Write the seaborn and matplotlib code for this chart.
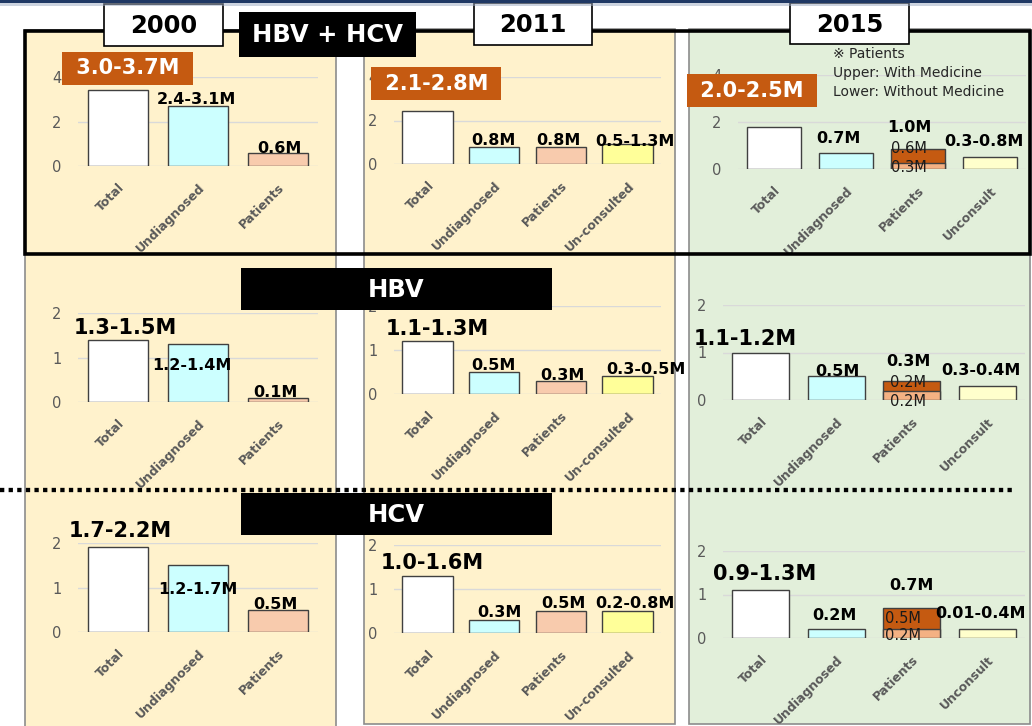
import numpy as np
import pandas as pd
import matplotlib
matplotlib.use('Agg')
import matplotlib.pyplot as plt
from matplotlib.patches import Rectangle
from matplotlib.lines import Line2D
import seaborn as sns

W, H = 1032, 726

# --- data (millions of people) ---
cats_2000 = ['Total', 'Undiagnosed', 'Patients']
cats_2011 = ['Total', 'Undiagnosed', 'Patients', 'Un-consulted']
cats_2015 = ['Total', 'Undiagnosed', 'Patients', 'Unconsult']

both_2000 = [3.4, 2.7, 0.6]
hbv_2000 = [1.4, 1.3, 0.1]
hcv_2000 = [1.9, 1.5, 0.5]
both_2011 = [2.45, 0.8, 0.8, 0.9]
hbv_2011 = [1.2, 0.5, 0.3, 0.4]
hcv_2011 = [1.3, 0.3, 0.5, 0.5]
both_2015 = [1.8, 0.7, 0.85, 0.5]
hbv_2015 = [1.0, 0.5, 0.4, 0.3]
hcv_2015 = [1.1, 0.2, 0.7, 0.2]
# 2015 patients without medicine (lower part of the stacked bar): HBV+HCV, HBV, HCV
no_med_2015 = [0.25, 0.2, 0.2]

lab_both_2000 = ['3.0-3.7M', '2.4-3.1M', '0.6M']
lab_hbv_2000 = ['1.3-1.5M', '1.2-1.4M', '0.1M']
lab_hcv_2000 = ['1.7-2.2M', '1.2-1.7M', '0.5M']
lab_both_2011 = ['2.1-2.8M', '0.8M', '0.8M', '0.5-1.3M']
lab_hbv_2011 = ['1.1-1.3M', '0.5M', '0.3M', '0.3-0.5M']
lab_hcv_2011 = ['1.0-1.6M', '0.3M', '0.5M', '0.2-0.8M']
lab_both_2015 = ['2.0-2.5M', '0.7M', '1.0M', '0.3-0.8M']
lab_hbv_2015 = ['1.1-1.2M', '0.5M', '0.3M', '0.3-0.4M']
lab_hcv_2015 = ['0.9-1.3M', '0.2M', '0.7M', '0.01-0.4M']
lab_med_2015 = ['0.6M', '0.2M', '0.5M']
lab_no_med_2015 = ['0.3M', '0.2M', '0.2M']

col_2000 = {'Total': 'white', 'Undiagnosed': '#CCFFFF', 'Patients': '#F8CBAD'}
col_2011 = {'Total': 'white', 'Undiagnosed': '#CCFFFF', 'Patients': '#F8CBAD', 'Un-consulted': '#FFFF99'}
col_2015 = {'Total': 'white', 'Undiagnosed': '#CCFFFF', 'Patients': '#C55A11', 'Unconsult': '#FFFFCC'}
NO_MED_COLOR = '#F4B183'
ORANGE = '#C55A11'

fig = plt.figure(figsize=(W / 100, H / 100), dpi=100)


def add_rect(x0, y0, x1, y1, **kw):
    r = Rectangle((x0 / W, 1 - y1 / H), (x1 - x0) / W, (y1 - y0) / H,
                  transform=fig.transFigure, **kw)
    fig.add_artist(r)


def add_text(x, y, s, **kw):
    fig.text(x / W, 1 - y / H, s, **kw)


# background panels
add_rect(25, 30, 336, 727, fc='#FFF2CC', ec='#8C8C8C', lw=1.2, zorder=-2)
add_rect(364, 29, 675, 724, fc='#FFF2CC', ec='#8C8C8C', lw=1.2, zorder=-2)
add_rect(689, 29, 1030, 724, fc='#E2EFDA', ec='#8C8C8C', lw=1.2, zorder=-2)

# panel layout: (left, right, y of 0, y of ymax) in pixels
panels = [
    dict(cats=cats_2000, vals=both_2000, labs=lab_both_2000, col=col_2000, px=(78, 318, 166, 77), ymax=4,
         off=[(9.5, 22), (-1.5, 2), (1, 0)], top=True),
    dict(cats=cats_2000, vals=hbv_2000, labs=lab_hbv_2000, col=col_2000, px=(78, 318, 402, 313), ymax=2,
         off=[(7, 6), (-6, -26), (-3, 1)], top=False),
    dict(cats=cats_2000, vals=hcv_2000, labs=lab_hcv_2000, col=col_2000, px=(78, 318, 632, 543), ymax=2,
         off=[(2, 10.5), (0, -29), (-3, 1)], top=False),
    dict(cats=cats_2011, vals=both_2011, labs=lab_both_2011, col=col_2011, px=(394, 661, 164, 77), ymax=4,
         off=[(9, 27), (-1, 1.5), (-2, 1.5), (7.5, -2)], top=True),
    dict(cats=cats_2011, vals=hbv_2011, labs=lab_hbv_2011, col=col_2011, px=(394, 661, 394, 306), ymax=2,
         off=[(9.5, 6), (-1, 2), (2, 1), (18, 2.5)], top=False),
    dict(cats=cats_2011, vals=hcv_2011, labs=lab_hcv_2011, col=col_2011, px=(394, 661, 633, 545), ymax=2,
         off=[(5, 7), (5, 3), (3, 2.5), (7, 3.5)], top=False),
    dict(cats=cats_2015, vals=both_2015, labs=lab_both_2015, col=col_2015, px=(738, 1026, 169, 75), ymax=4,
         off=[(-22, 36), (-8, 9.5), (-9, 17), (-6, 11)], top=True, split=0,
         split_off=[(-9, -3.5), (-9, -8.5)]),
    dict(cats=cats_2015, vals=hbv_2015, labs=lab_hbv_2015, col=col_2015, px=(723, 1025, 400, 305), ymax=2,
         off=[(-15, 7.5), (1, 0), (-3, 15), (-6, 11)], top=False, split=1,
         split_off=[(-4, -5.7), (-4, -15.5)]),
    dict(cats=cats_2015, vals=hcv_2015, labs=lab_hcv_2015, col=col_2015, px=(723, 1025, 638, 551), ymax=2,
         off=[(4, 10), (-1.5, 9.3), (0, 17.5), (-7, 11.3)], top=False, split=2,
         split_off=[(-9, -15), (-9, -10.7)]),
]

for p in panels:
    left, right, y0, ytop = p['px']
    ax = fig.add_axes([left / W, 1 - y0 / H, (right - left) / W, (y0 - ytop) / H])
    ax.set_facecolor('none')
    cats = p['cats']
    df = pd.DataFrame({'cat': cats, 'val': p['vals']})
    sns.barplot(data=df, x='cat', y='val', hue='cat', palette=p['col'], order=cats, hue_order=cats,
                saturation=1, width=0.76, edgecolor='#404040', linewidth=1, errorbar=None,
                legend=False, ax=ax)
    if 'split' in p:
        k = p['split']
        sub = pd.DataFrame({'cat': ['Patients'], 'val': [no_med_2015[k]]})
        sns.barplot(data=sub, x='cat', y='val', order=cats, color=NO_MED_COLOR, saturation=1,
                    width=0.76, edgecolor='#404040', linewidth=1, errorbar=None, ax=ax)
    ax.set_xlim(-0.5, len(cats) - 0.5)
    ax.set_ylim(0, p['ymax'])
    ticks = np.arange(0, p['ymax'] + 0.1, p['ymax'] / 2)
    ax.set_yticks(ticks)
    ax.set_yticklabels([str(int(v)) for v in ticks])
    ax.set_xlabel('')
    ax.set_ylabel('')
    for s in ax.spines.values():
        s.set_visible(False)
    ax.yaxis.grid(True, color='#D9D9D9', lw=1)
    ax.set_axisbelow(True)
    ax.tick_params(axis='y', length=0, pad=12, labelsize=10.5, labelcolor='#595959')
    ax.tick_params(axis='x', length=0, pad=11, labelsize=9, labelcolor='#595959')
    for t in ax.get_xticklabels():
        t.set_rotation(45)
        t.set_ha('right')
        t.set_va('top')
        t.set_rotation_mode('anchor')
        t.set_fontweight('bold')

    for i, (txt, (dx, dy)) in enumerate(zip(p['labs'], p['off'])):
        val = p['vals'][i]
        if i == 0 and p['top']:
            ax.annotate(' ' + txt + ' ', xy=(i, val), xytext=(dx, dy), textcoords='offset pixels',
                        ha='center', va='center', fontsize=15, fontweight='bold', color='white',
                        bbox=dict(boxstyle='square,pad=0.3', fc=ORANGE, ec='none'))
        elif i == 0:
            ax.annotate(txt, xy=(i, val), xytext=(dx, dy), textcoords='offset pixels',
                        ha='center', va='baseline', fontsize=15, fontweight='bold', color='black')
        else:
            ax.annotate(txt, xy=(i, val), xytext=(dx, dy), textcoords='offset pixels',
                        ha='center', va='baseline', fontsize=11.5, fontweight='bold', color='black')

    if 'split' in p:
        k = p['split']
        i = cats.index('Patients')
        (dx1, dy1), (dx2, dy2) = p['split_off']
        ax.annotate(lab_med_2015[k], xy=(i, p['vals'][i]), xytext=(dx1, dy1), textcoords='offset pixels',
                    ha='center', va='baseline', fontsize=10.5, color='#1A1A1A')
        ax.annotate(lab_no_med_2015[k], xy=(i, no_med_2015[k]), xytext=(dx2, dy2), textcoords='offset pixels',
                    ha='center', va='baseline', fontsize=10.5, color='#1A1A1A')

# top navy rule
add_rect(0, 0, W, 3, fc='#1F3864', ec='none', zorder=6)
add_rect(0, 3, W, 6, fc='#9AA8C0', ec='none', alpha=0.5, zorder=6)

# thick frame around the HBV + HCV row
add_rect(25, 31, 1030, 254, fill=False, ec='black', lw=2.6, zorder=3)

# year boxes
for (x0, x1, y0, y1), yr in zip([(104, 223, 4, 46), (474, 592, 3, 45), (790, 909, 3, 44)],
                                ['2000', '2011', '2015']):
    add_rect(x0, y0, x1, y1, fc='white', ec='black', lw=1.2, zorder=4)
    add_text((x0 + x1) / 2, (y0 + y1) / 2 + 1, yr, ha='center', va='center', fontsize=17.5,
             fontweight='bold', color='black', zorder=5)

# row titles
for (x0, x1, y0, y1), name in zip([(239, 416, 12, 57), (241, 552, 268, 310), (241, 552, 493, 535)],
                                  ['HBV + HCV', 'HBV', 'HCV']):
    add_rect(x0, y0, x1, y1, fc='black', ec='none', zorder=4)
    add_text((x0 + x1) / 2, (y0 + y1) / 2 + 1, name, ha='center', va='center', fontsize=17.5,
             fontweight='bold', color='white', zorder=5)

# dotted separator between HBV and HCV
fig.add_artist(Line2D([0, 1015 / W], [1 - 490 / H, 1 - 490 / H], transform=fig.transFigure,
                      color='black', lw=3.1, linestyle=(0, (1, 1)), zorder=4))

# note for 2015 patients
for y, s in zip([54, 73, 92], ['※ Patients', 'Upper: With Medicine', 'Lower: Without Medicine']):
    add_text(833, y, s, ha='left', va='center', fontsize=10, color='#262626',
             family=['DejaVu Sans', 'Noto Sans CJK JP'], zorder=5)

fig.savefig('out.png', dpi=100)
